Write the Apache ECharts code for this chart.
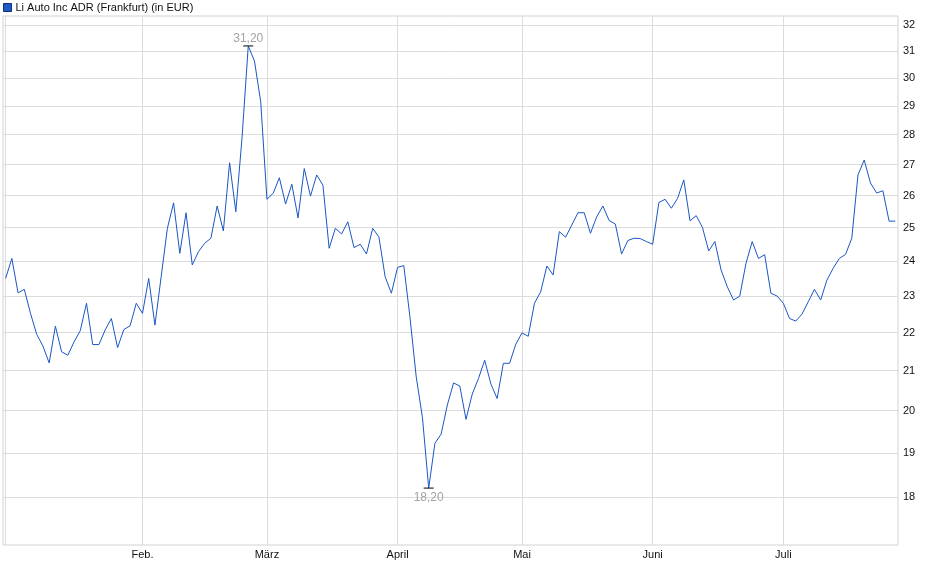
<!DOCTYPE html>
<html>
<head>
<meta charset="utf-8">
<title>Li Auto Inc ADR (Frankfurt)</title>
<script src="https://cdn.jsdelivr.net/npm/echarts@6.0.0/dist/echarts.min.js"></script>
<style>
    html, body { margin: 0; padding: 0; background: #fff; }
    #liAutoChart { width: 940px; height: 579px; }
</style>
</head>
<body>
<div id="liAutoChart"></div>
<script type="text/javascript">
    // Schlusskurse je Handelstag in EUR, ein Array pro Monat
    var jan = [23.50, 24.08, 23.09, 23.19, 22.52, 21.95, 21.64, 21.20, 22.17, 21.49, 21.40,
               21.75, 22.05, 22.80, 21.68, 21.68, 22.07, 22.38, 21.60, 22.08, 22.18, 22.80];
    var feb = [22.52, 23.50, 22.20, 23.55, 24.98, 25.77, 24.23, 25.46, 23.89, 24.28,
               24.53, 24.68, 25.67, 24.90, 27.06, 25.49, 27.90, 31.20, 30.63, 29.15];
    var mar = [25.88, 26.07, 26.57, 25.73, 26.36, 25.30, 26.87, 25.98, 26.66, 26.33, 24.38,
               24.98, 24.81, 25.18, 24.40, 24.50, 24.21, 24.98, 24.72, 23.55, 23.08];
    var apr = [23.82, 23.87, 22.40, 20.84, 19.83, 18.20, 19.22, 19.44, 20.14, 20.69,
               20.61, 19.79, 20.41, 20.80, 21.27, 20.66, 20.30, 21.19, 21.19, 21.69];
    var may = [21.99, 21.90, 22.80, 23.12, 23.86, 23.60, 24.88, 24.71, 25.08, 25.46, 25.46,
               24.83, 25.33, 25.67, 25.22, 25.11, 24.21, 24.61, 24.68, 24.67, 24.58];
    var jun = [24.50, 25.78, 25.88, 25.60, 25.91, 26.50, 25.21, 25.37, 25.01, 24.30, 24.58,
               23.74, 23.26, 22.89, 23.00, 23.94, 24.58, 24.08, 24.19, 23.08, 23.00];
    var jul = [22.80, 22.38, 22.31, 22.50, 22.84, 23.19, 22.89, 23.45, 23.79, 24.08,
               24.20, 24.68, 26.66, 27.15, 26.40, 26.08, 26.15, 25.20, 25.20];

    var monthNames = ['Jan.', 'Feb.', 'März', 'April', 'Mai', 'Juni', 'Juli'];
    var yTicks = [18, 19, 20, 21, 22, 23, 24, 25, 26, 27, 28, 29, 30, 31, 32];
    var seriesName = 'Li Auto Inc ADR (Frankfurt) (in EUR)';

    var months = [jan, feb, mar, apr, may, jun, jul];
    var seriesData = [];
    var monthStarts = [];
    months.forEach(function (m) {
        monthStarts.push(seriesData.length);
        m.forEach(function (v) {
            seriesData.push([seriesData.length, v]);
        });
    });

    var chart = echarts.init(document.getElementById('liAutoChart'));
    var option = {
        animation: false,
        textStyle: { fontFamily: '"Liberation Sans", Arial, sans-serif' },
        legend: {
            left: 1, top: 0,
            padding: [2, 5, 5, 2],
            icon: 'rect', itemWidth: 8, itemHeight: 8, itemGap: 4,
            textStyle: { fontSize: 11, color: '#111', padding: [0, 0, 0, -1] },
            itemStyle: { color: '#1f5bc6', borderColor: '#0d2f7a', borderWidth: 1 },
            data: [seriesName]
        },
        grid: {
            left: 3, right: 42, top: 16, bottom: 34,
            show: true, borderColor: '#d2d2d2', borderWidth: 1
        },
        xAxis: {
            type: 'value',
            min: -0.42,
            max: seriesData.length - 1 + 0.43,
            axisLine: { show: false },
            // Gitterlinien an jedem Monatsanfang
            axisTick: { show: false, customValues: monthStarts },
            splitLine: { show: true, lineStyle: { color: '#dcdcdc', width: 1 } },
            axisLabel: {
                customValues: monthStarts.slice(1),
                fontSize: 11, color: '#111', margin: 4,
                formatter: function (v) {
                    return monthNames[monthStarts.indexOf(v)];
                }
            }
        },
        yAxis: {
            type: 'log',
            position: 'right',
            min: 16.98,
            max: 32.36,
            axisLine: { show: false },
            axisTick: { show: false, customValues: yTicks },
            splitLine: { show: true, lineStyle: { color: '#dcdcdc', width: 1 } },
            axisLabel: { customValues: yTicks, fontSize: 11, color: '#111', margin: 5 }
        },
        series: [{
            name: seriesName,
            type: 'line',
            data: seriesData,
            showSymbol: false,
            symbol: 'none',
            lineStyle: { color: '#1a56c4', width: 1 },
            itemStyle: { color: '#1f5bc6', borderColor: '#0d2f7a', borderWidth: 1 },
            markPoint: {
                symbol: 'rect',
                symbolSize: [10, 1],
                itemStyle: { color: '#000' },
                label: {
                    fontSize: 12, color: '#a3a3a3',
                    formatter: function (p) {
                        return p.value.toFixed(2).replace('.', ',');
                    }
                },
                data: [
                    { type: 'max', valueDim: 'y', label: { position: 'top', distance: 1 } },
                    { type: 'min', valueDim: 'y', label: { position: 'bottom', distance: 3 } }
                ]
            }
        }]
    };
    chart.setOption(option);
</script>
</body>
</html>
